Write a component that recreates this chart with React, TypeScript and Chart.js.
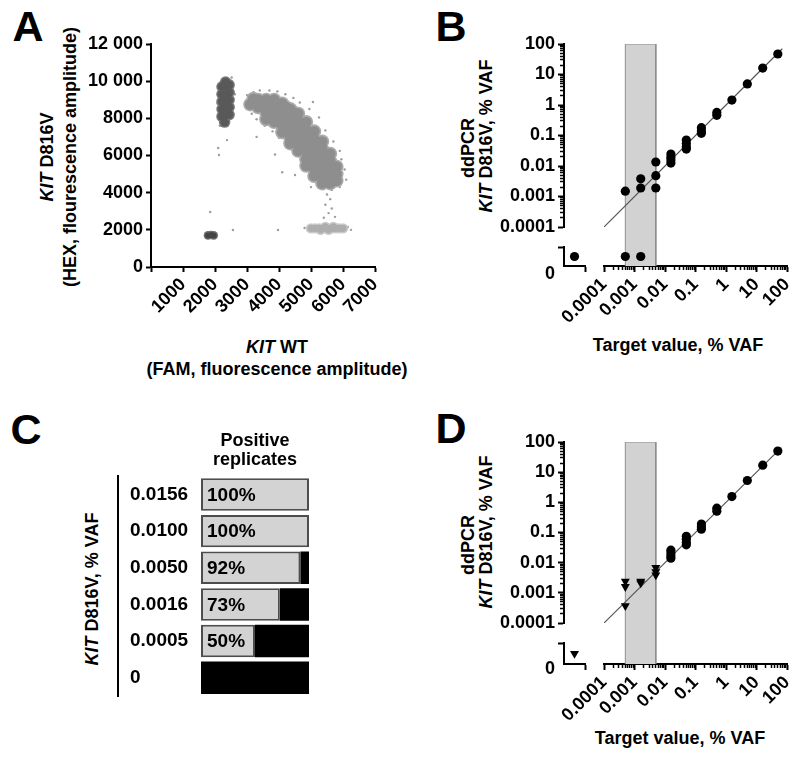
import React, { useEffect, useRef } from 'react';
import { Chart, registerables } from 'chart.js';

Chart.register(...registerables);

const FONT = '"Liberation Sans", Arial, Helvetica, sans-serif';
Chart.defaults.font.family = FONT;
Chart.defaults.font.size = 18;
(Chart.defaults.font as any).weight = 'bold';
Chart.defaults.color = '#000';

// ---------------- Panel A: 2D droplet amplitude plot ----------------
const aYTicks = [0, 2000, 4000, 6000, 8000, 10000, 12000];
const aYTickLabels = ['0', '2000', '4000', '6000', '8000', '10 000', '12 000'];
const aXTicks = [0, 1000, 2000, 3000, 4000, 5000, 6000, 7000];
const aXTickLabels = ['', '1000', '2000', '3000', '4000', '5000', '6000', '7000'];

// droplet clusters (FAM, HEX)
const aDoubleNeg: [number, number][] = [[1780, 1700], [1880, 1720], [1960, 1700]];
const aHexPos: [number, number][] = [
  [2220, 9700], [2220, 9300], [2220, 8900], [2220, 8500], [2220, 8100],
  [2440, 9800], [2440, 9400], [2440, 9000], [2440, 8600], [2440, 8200],
  [2330, 9950], [2330, 9500], [2330, 9100], [2330, 8700], [2330, 8300], [2300, 7800],
];
const aDoublePos: [number, number][] = [
  [3100, 8750], [3200, 9050],
  [3350, 9000], [3350, 8600],
  [3600, 9000], [3600, 8650], [3600, 8300], [3600, 7950],
  [3850, 9000], [3850, 8600], [3850, 8200], [3850, 7800],
  [4100, 8800], [4100, 8400], [4100, 8000], [4100, 7600], [4100, 7250],
  [4350, 8500], [4350, 8100], [4350, 7700], [4350, 7300], [4350, 6950], [4350, 6650],
  [4600, 8250], [4600, 7850], [4600, 7450], [4600, 7050], [4600, 6650], [4600, 6250],
  [4850, 7800], [4850, 7400], [4850, 7000], [4850, 6600], [4850, 6200], [4850, 5800], [4850, 5450],
  [5100, 7300], [5100, 6900], [5100, 6500], [5100, 6100], [5100, 5700], [5100, 5300], [5100, 4900],
  [5350, 6750], [5350, 6350], [5350, 5950], [5350, 5550], [5350, 5150], [5350, 4800], [5350, 4500],
  [5600, 6100], [5600, 5700], [5600, 5300], [5600, 4900], [5600, 4500],
  [5800, 5400], [5800, 5000], [5800, 4650],
  [3470, 8800], [3720, 8450], [3970, 8400], [4220, 7800], [4470, 7500], [4720, 7250],
  [4970, 6800], [5220, 6300], [5470, 5750], [5700, 5100], [4720, 6450], [4970, 5900],
  [5220, 5500], [5470, 5000], [3970, 8000], [4220, 8600], [4470, 8300], [4720, 7650],
];
const aFamPos: [number, number][] = [
  [5000, 2080], [5125, 2080], [5250, 2080], [5375, 2080], [5500, 2080], [5625, 2080],
  [5750, 2080], [5875, 2080], [6000, 2080], [5300, 2000], [5550, 2000], [5450, 2160], [5700, 2160],
];
const aScattered: [number, number][] = [
  [3000, 9250], [3050, 8900], [3200, 9400], [3150, 8250], [3400, 9500], [3300, 7950],
  [3700, 9500], [3550, 7600], [3950, 9450], [3800, 7300], [4200, 9300], [4000, 6950],
  [4450, 9100], [4250, 6500], [4650, 8850], [4450, 6100], [4950, 8500], [4700, 5650],
  [5060, 8880], [4950, 5100], [5250, 8050], [5150, 4600], [5450, 7350], [5400, 4200],
  [5700, 6750], [5650, 4150], [5900, 6250], [5950, 5800], [6050, 5250], [6100, 4700],
  [5900, 4300], [5500, 3900], [5600, 3650], [5450, 3350], [5650, 3150], [5550, 2900],
  [5400, 2650], [5750, 2700], [3300, 7000], [3875, 6050], [4100, 5100], [4500, 4950],
  [5000, 4300], [2375, 6830], [2100, 6400], [2125, 6030], [1850, 2960], [2560, 1990],
  [3970, 1990], [2150, 7600], [2520, 10200], [2620, 9300], [2080, 8800], [4900, 1950],
  [6150, 2150], [6250, 2000], [4800, 2100], [3200, 8600], [3500, 8000], [4300, 7000],
];

// ---------------- Panels B and D: log-log linearity ----------------
const logTickValues = [0.0001, 0.001, 0.01, 0.1, 1, 10, 100];
const logTickLabels = ['0.0001', '0.001', '0.01', '0.1', '1', '10', '100'];
const zeroTickLabel = '0';
const shadedRange = [0.0005, 0.005];

const bFitX = [0.0001, 70];
const bFitY = [0.0001, 70];
const bDetX = [0.0005, 0.0016, 0.0016, 0.005, 0.005, 0.005,
  0.0156, 0.0156, 0.0156, 0.0156, 0.05, 0.05, 0.05, 0.05,
  0.156, 0.156, 0.156, 0.5, 0.5, 1.56, 5, 16, 50];
const bDetY = [0.0015, 0.0038, 0.0019, 0.0135, 0.0048, 0.0019,
  0.0247, 0.0193, 0.0157, 0.0125, 0.071, 0.055, 0.043, 0.036,
  0.18, 0.144, 0.118, 0.57, 0.46, 1.45, 4.9, 16.3, 47];
const bUndetX = [0.0005, 0.0016]; // measured 0 % VAF
const bBlankX = [0];
const bBlankY = [0];

const dFitX = [0.0001, 65];
const dFitY = [0.0001, 65];
const dCircX = [0.0156, 0.0156, 0.0156, 0.0156, 0.05, 0.05, 0.05, 0.05,
  0.156, 0.156, 0.156, 0.5, 0.5, 1.56, 5, 16, 50];
const dCircY = [0.026, 0.021, 0.017, 0.014, 0.075, 0.06, 0.047, 0.039,
  0.19, 0.155, 0.128, 0.64, 0.51, 1.55, 5.3, 17, 50];
const dTriX = [0.0005, 0.0005, 0.0005, 0.0016, 0.0016, 0.005, 0.005, 0.005];
const dTriY = [0.0024, 0.0016, 0.00037, 0.0024, 0.0021, 0.0068, 0.005, 0.0039];
const dBlankX = [0];
const dBlankY = [0];

// ---------------- Panel C: positive replicates ----------------
const cCategories = ['0.0156', '0.0100', '0.0050', '0.0016', '0.0005', '0'];
const cPositive = [100, 100, 92, 73, 50, 0];
const cNegative = [0, 0, 8, 27, 50, 100];
const cTitle = ['Positive', 'replicates'];

// ---------------- helpers ----------------
const toPts = (arr: [number, number][]) => arr.map(([x, y]) => ({ x, y }));
const pairPts = (xs: number[], ys: number[]) => xs.map((x, i) => ({ x, y: ys[i] }));

const fixW = (w: number) => (s: any) => {
  s.width = w; s.paddingTop = 0; s.paddingBottom = 0; s.paddingLeft = 0; s.paddingRight = 0;
};
const fixH = (h: number) => (s: any) => {
  s.height = h; s.paddingTop = 0; s.paddingBottom = 0; s.paddingLeft = 0; s.paddingRight = 0;
};
const axisBorder = { display: true, width: 2, color: '#000' };
const tickGrid = (vertical: boolean, len = 6) => ({
  display: true,
  drawOnChartArea: false,
  drawTicks: true,
  tickLength: len,
  tickColor: '#000',
  tickWidth: (c: any) => (c.tick && c.tick.major === false ? 1.5 : 2),
  tickBorderDash: (c: any) =>
    c.tick && c.tick.major === false ? (vertical ? [0, 2, 3, 30] : [3, 30]) : [],
});
const buildLogTicks = (s: any) => {
  const t: any[] = [];
  logTickValues.forEach((v, i) => {
    t.push({ value: v, major: true, li: i });
    if (i < logTickValues.length - 1) {
      for (let m = 2; m <= 9; m++) t.push({ value: v * m, major: false });
    }
  });
  s.ticks = t;
};
const logLabel = (_v: any, i: number, t: any[]) =>
  t[i] && t[i].major ? logTickLabels[t[i].li] : '';

const baseOpts = {
  responsive: false,
  animation: false,
  devicePixelRatio: 1,
  events: [],
};

function buildA(canvas: HTMLCanvasElement) {
  const sc = (data: any, r: number, c: string, order: number) => ({
    type: 'scatter', data, pointRadius: r, pointBackgroundColor: c, backgroundColor: c,
    borderColor: c, pointBorderWidth: 0, order,
  });
  return new Chart(canvas, {
    type: 'scatter',
    data: {
      datasets: [
        sc(toPts(aDoubleNeg), 3, '#454545', 1),
        sc(toPts(aHexPos), 4.4, '#595959', 1),
        sc(toPts(aDoublePos), 5.4, '#8e8e8e', 1),
        sc(toPts(aFamPos), 3.6, '#adadad', 1),
        sc(toPts(aDoubleNeg), 4.3, '#707070', 3),
        sc(toPts(aHexPos), 5.8, '#7b7b7b', 3),
        sc(toPts(aDoublePos), 7, '#acacac', 3),
        sc(toPts(aFamPos), 5.2, '#cacaca', 3),
        sc(toPts(aScattered), 1.2, '#9c9c9c', 5),
      ],
    },
    options: {
      ...baseOpts,
      layout: { padding: { top: 24, right: 25, bottom: 0, left: 0 } },
      plugins: { legend: { display: false }, tooltip: { enabled: false } },
      scales: {
        x: {
          type: 'linear', position: 'bottom', min: 0, max: 7000,
          afterBuildTicks: (s: any) => { s.ticks = aXTicks.map((v) => ({ value: v })); },
          afterFit: fixH(113),
          ticks: {
            autoSkip: false, minRotation: 45, maxRotation: 45, padding: 2,
            callback: (_v: any, i: number) => aXTickLabels[i],
          },
          grid: tickGrid(false, 5),
          border: axisBorder,
        },
        y: {
          type: 'linear', position: 'left', min: 0, max: 12000,
          afterBuildTicks: (s: any) => { s.ticks = aYTicks.map((v) => ({ value: v })); },
          afterFit: fixW(91),
          ticks: { autoSkip: false, padding: 3, callback: (_v: any, i: number) => aYTickLabels[i] },
          grid: tickGrid(true, 5),
          border: axisBorder,
        },
      },
    } as any,
  } as any);
}

function buildLod(
  canvas: HTMLCanvasElement,
  geo: { yMain: number; yGap: number; yZero: number; zeroOffset: number },
  datasets: any[],
) {
  return new Chart(canvas, {
    type: 'scatter',
    data: { datasets },
    options: {
      ...baseOpts,
      layout: { padding: { top: 24, right: 13, bottom: 0, left: 0 } },
      plugins: { legend: { display: false }, tooltip: { enabled: false } },
      scales: {
        x0: {
          type: 'linear', axis: 'x', position: 'bottom', stack: 'xs', stackWeight: 21, weight: 1,
          min: -1, max: 1,
          afterBuildTicks: (s: any) => { s.ticks = [{ value: 1 }]; },
          afterFit: fixH(94),
          ticks: { display: false },
          grid: tickGrid(false),
          border: axisBorder,
        },
        xGap: {
          type: 'linear', axis: 'x', position: 'bottom', stack: 'xs', stackWeight: 19, weight: 2,
          display: false, min: 0, max: 1,
        },
        x: {
          type: 'logarithmic', axis: 'x', position: 'bottom', stack: 'xs', stackWeight: 183, weight: 3,
          min: 0.0001, max: 100,
          afterBuildTicks: buildLogTicks,
          afterFit: fixH(94),
          ticks: { autoSkip: false, minRotation: 45, maxRotation: 45, padding: 2, callback: logLabel },
          grid: tickGrid(false),
          border: axisBorder,
        },
        y: {
          type: 'logarithmic', axis: 'y', position: 'left', stack: 'ys', stackWeight: geo.yMain, weight: 3,
          min: 0.0001, max: 100,
          afterBuildTicks: buildLogTicks,
          afterFit: fixW(84),
          ticks: { autoSkip: false, padding: 3, callback: logLabel },
          grid: tickGrid(true),
          border: axisBorder,
        },
        yGap: {
          type: 'linear', axis: 'y', position: 'left', stack: 'ys', stackWeight: geo.yGap, weight: 2,
          display: false, min: 0, max: 1,
        },
        y0: {
          type: 'linear', axis: 'y', position: 'left', stack: 'ys', stackWeight: geo.yZero, weight: 1,
          min: -1, max: 1,
          afterBuildTicks: (s: any) => { s.ticks = [{ value: 0 }, { value: 1 }]; },
          afterFit: fixW(84),
          ticks: {
            autoSkip: false, padding: 3, labelOffset: geo.zeroOffset,
            callback: (v: any) => (v === 0 ? zeroTickLabel : ''),
          },
          grid: {
            ...tickGrid(true),
            tickColor: (c: any) => (c.tick && c.tick.value === 0 ? 'rgba(0,0,0,0)' : '#000'),
          },
          border: axisBorder,
        },
        yFull: { type: 'linear', axis: 'y', position: 'left', display: false, min: 0, max: 1, weight: 0 },
      },
    } as any,
  } as any);
}

const dotStyle = {
  pointRadius: 4.6, pointBackgroundColor: '#000', backgroundColor: '#000',
  borderColor: '#000', pointBorderWidth: 0,
};
const triStyle = {
  pointRadius: 5.2, pointStyle: 'triangle', pointRotation: 180,
  pointBackgroundColor: '#000', backgroundColor: '#000', borderColor: '#000', pointBorderWidth: 0,
};
// shaded range as one filled outline (edges drawn by its own border)
const bandSet = () => ({
  type: 'line', xAxisID: 'x', yAxisID: 'yFull',
  data: [
    { x: shadedRange[0], y: 0 }, { x: shadedRange[0], y: 1 },
    { x: shadedRange[1], y: 1 }, { x: shadedRange[1], y: 0 },
  ],
  fill: 'origin', backgroundColor: '#d2d2d2', borderColor: '#8c8c8c', borderWidth: 1,
  pointRadius: 0, order: 9,
});
const fitSet = (xs: number[], ys: number[]) => ({
  type: 'line', xAxisID: 'x', yAxisID: 'y', data: pairPts(xs, ys),
  borderColor: '#555', borderWidth: 1.2, pointRadius: 0, fill: false, order: 5,
});

function buildB(canvas: HTMLCanvasElement) {
  return buildLod(canvas, { yMain: 183, yGap: 20, yZero: 19, zeroOffset: 18 }, [
    { type: 'scatter', xAxisID: 'x', yAxisID: 'y', data: pairPts(bDetX, bDetY), ...dotStyle },
    { type: 'scatter', xAxisID: 'x', yAxisID: 'y0', data: bUndetX.map((x) => ({ x, y: 0 })), ...dotStyle },
    { type: 'scatter', xAxisID: 'x0', yAxisID: 'y0', data: pairPts(bBlankX, bBlankY), ...dotStyle },
    bandSet(),
    fitSet(bFitX, bFitY),
  ]);
}

function buildD(canvas: HTMLCanvasElement) {
  return buildLod(canvas, { yMain: 181, yGap: 20, yZero: 21, zeroOffset: 16 }, [
    { type: 'scatter', xAxisID: 'x', yAxisID: 'y', data: pairPts(dCircX, dCircY), ...dotStyle },
    { type: 'scatter', xAxisID: 'x', yAxisID: 'y', data: pairPts(dTriX, dTriY), ...triStyle },
    { type: 'scatter', xAxisID: 'x0', yAxisID: 'y0', data: pairPts(dBlankX, dBlankY), ...triStyle },
    bandSet(),
    fitSet(dFitX, dFitY),
  ]);
}

const barLabelPlugin = {
  id: 'barLabels',
  afterDatasetsDraw(chart: any) {
    const meta = chart.getDatasetMeta(0);
    const ctx = chart.ctx;
    ctx.save();
    ctx.font = `bold 19px ${FONT}`;
    ctx.fillStyle = '#000';
    ctx.textAlign = 'left';
    ctx.textBaseline = 'middle';
    meta.data.forEach((bar: any, i: number) => {
      const v = cPositive[i];
      if (v > 0) ctx.fillText(`${v}%`, bar.base + 6, bar.y + 1);
    });
    ctx.restore();
  },
};

function buildC(canvas: HTMLCanvasElement) {
  return new Chart(canvas, {
    type: 'bar',
    data: {
      labels: cCategories,
      datasets: [
        {
          label: 'Positive', data: cPositive, xAxisID: 'x', yAxisID: 'y',
          backgroundColor: '#d3d3d3', borderColor: '#4d4d4d',
          borderWidth: (c: any) => (c.raw > 0 ? 2 : 0), borderSkipped: false,
          barPercentage: 0.886, categoryPercentage: 1,
        },
        {
          label: 'Negative', data: cNegative, xAxisID: 'x', yAxisID: 'y',
          backgroundColor: '#000', borderWidth: 0,
          barPercentage: 0.886, categoryPercentage: 1,
        },
      ],
    },
    options: {
      ...baseOpts,
      indexAxis: 'y',
      layout: { padding: { top: 0, right: 31, bottom: 24, left: 0 } },
      plugins: {
        legend: { display: false },
        tooltip: { enabled: false },
        title: {
          display: true, fullSize: false, text: cTitle, color: '#000',
          font: { size: 18, weight: 'bold', lineHeight: 1.06 },
          padding: { top: 11, bottom: 7 },
        },
      },
      scales: {
        x: { type: 'linear', axis: 'x', stacked: true, min: 0, max: 100, display: false },
        yLine: {
          type: 'linear', axis: 'y', position: 'left', weight: 3, min: 0, max: 1,
          afterFit: fixW(58),
          ticks: { display: false }, grid: { display: false },
          border: { display: true, width: 2, color: '#000' },
        },
        ySpace: {
          type: 'linear', axis: 'y', position: 'left', weight: 2, min: 0, max: 1,
          display: false, afterFit: fixW(12),
        },
        y: {
          type: 'category', axis: 'y', position: 'left', weight: 1, stacked: true,
          afterFit: fixW(71),
          grid: { display: false }, border: { display: false },
          ticks: { crossAlign: 'far', padding: 0, font: { size: 19, weight: 'bold' }, color: '#000' },
        },
      },
    } as any,
    plugins: [barLabelPlugin],
  } as any);
}

function ChartBox({ x, y, w, h, build }: any) {
  const ref = useRef<HTMLCanvasElement | null>(null);
  useEffect(() => {
    const chart = build(ref.current as HTMLCanvasElement);
    return () => chart.destroy();
  }, []);
  return (
    <canvas
      ref={ref}
      width={w}
      height={h}
      style={{ position: 'absolute', left: x, top: y, display: 'block' }}
    />
  );
}

function Txt({ x, y, rot = 0, size = 18, lh, children }: any) {
  return (
    <div
      style={{
        position: 'absolute', left: x, top: y,
        transform: `translate(-50%, -50%) rotate(${rot}deg)`,
        font: `bold ${size}px ${FONT}`,
        lineHeight: lh ? `${lh}px` : '1.15',
        whiteSpace: 'nowrap', textAlign: 'center', color: '#000',
        pointerEvents: 'none',
      }}
    >
      {children}
    </div>
  );
}

const I = ({ children }: any) => <span style={{ fontStyle: 'italic' }}>{children}</span>;

export default function App() {
  return (
    <div style={{ position: 'absolute', left: 0, top: 0, width: 800, height: 762, background: '#fff', overflow: 'hidden' }}>
      <Txt x={28} y={27} size={43}>A</Txt>
      <Txt x={451} y={27} size={43}>B</Txt>
      <Txt x={26} y={430} size={43}>C</Txt>
      <Txt x={451} y={429} size={43}>D</Txt>

      <Txt x={58.5} y={157} rot={-90} lh={23}>
        <I>KIT</I> D816V<br />(HEX, flourescence amplitude)
      </Txt>
      <Txt x={277} y={358} lh={22}>
        <I>KIT</I> WT<br />(FAM, fluorescence amplitude)
      </Txt>

      <Txt x={468} y={148} rot={-90}>ddPCR</Txt>
      <Txt x={486} y={136} rot={-90}><I>KIT</I> D816V, % VAF</Txt>
      <Txt x={678} y={345}>Target value, % VAF</Txt>

      <Txt x={92} y={589} rot={-90}><I>KIT</I> D816V, % VAF</Txt>

      <Txt x={468} y={545} rot={-90}>ddPCR</Txt>
      <Txt x={486} y={532} rot={-90}><I>KIT</I> D816V, % VAF</Txt>
      <Txt x={680} y={738}>Target value, % VAF</Txt>

      <ChartBox x={60} y={20} w={340} h={360} build={buildA} />
      <ChartBox x={480} y={20} w={320} h={340} build={buildB} />
      <ChartBox x={60} y={420} w={280} h={300} build={buildC} />
      <ChartBox x={480} y={418} w={320} h={340} build={buildD} />
    </div>
  );
}
